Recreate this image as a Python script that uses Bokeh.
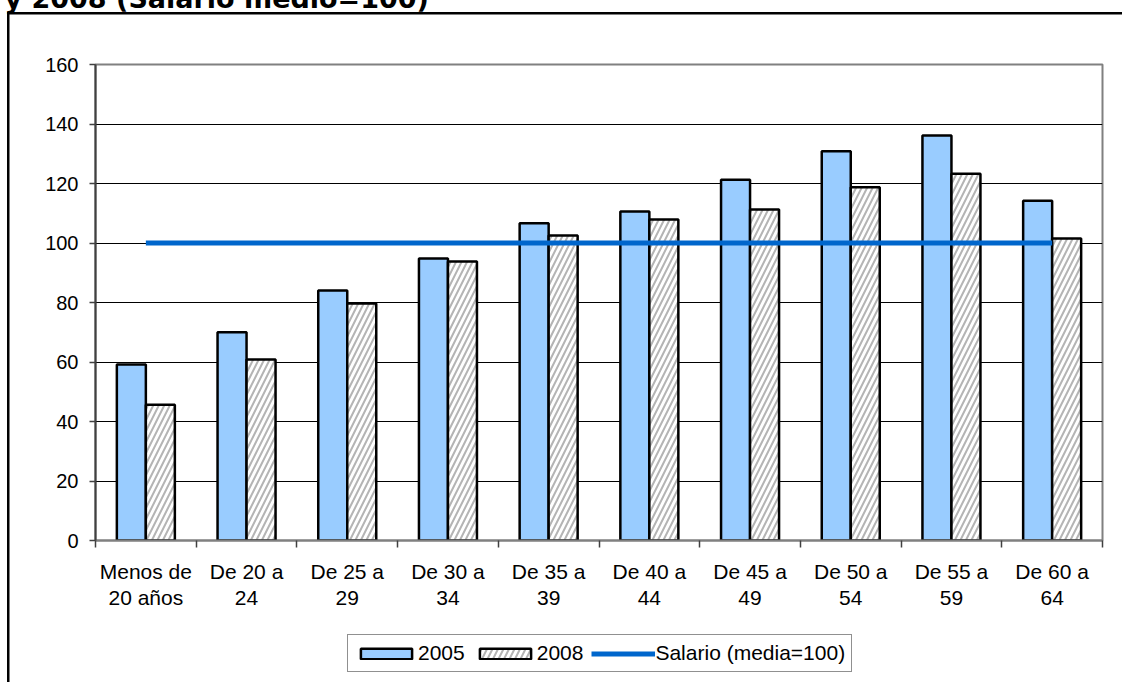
from bokeh.plotting import figure
from bokeh.layouts import column
from bokeh.models import (Range1d, FixedTicker, Legend, LegendItem, Label,
                          ColumnDataSource, InlineStyleSheet)
from bokeh.embed import file_html
from bokeh.resources import INLINE

# Salario relativo por grupo de edad (media = 100)
categories = ["Menos de\n20 años", "De 20 a\n24", "De 25 a\n29", "De 30 a\n34",
              "De 35 a\n39", "De 40 a\n44", "De 45 a\n49", "De 50 a\n54",
              "De 55 a\n59", "De 60 a\n64"]
values_2005 = [59.2, 70.0, 84.0, 94.8, 106.6, 110.6, 121.3, 130.8, 136.1, 114.2]
values_2008 = [45.6, 60.8, 79.7, 93.8, 102.5, 107.9, 111.3, 118.7, 123.3, 101.5]
salario_medio = [100, 100, 100, 100, 100, 100, 100, 100, 100, 100]
y_ticks = [0, 20, 40, 60, 80, 100, 120, 140, 160]
series_names = ["2005", "2008", "Salario (media=100)"]
title_text = "y 2008 (Salario medio=100)"

n = len(categories)
centers = [i + 0.5 for i in range(n)]
bounds = [float(i) for i in range(n + 1)]
bar_w = 0.288

src = ColumnDataSource(dict(
    x05=[c - bar_w / 2 for c in centers],
    x08=[c + bar_w / 2 for c in centers],
    xc=centers,
    v05=values_2005,
    v08=values_2008,
    media=salario_medio,
))

FONT = "Liberation Sans"
W = 1122
H_CHART = 627
H_LEGEND = 55

STYLE_05 = dict(fill_color="#99CCFF", line_color="black", line_width=2.5)
STYLE_08 = dict(fill_color="white", line_color="black", line_width=2.5,
                hatch_pattern="/", hatch_color="#B4B4B4", hatch_weight=2,
                hatch_scale=11)
STYLE_MEDIA = dict(line_color="#0066CC", line_width=5)

# outer chart border (left and top edges) painted behind the transparent canvas
border_top_left = InlineStyleSheet(css="""
:host {
  background:
    linear-gradient(#000, #000) 7px 12px / 2.5px 100% no-repeat,
    linear-gradient(#000, #000) 7px 12px / 100% 2.5px no-repeat,
    #ffffff;
}
""")
border_left = InlineStyleSheet(css="""
:host {
  background:
    linear-gradient(#000, #000) 7px 0px / 2.5px 100% no-repeat,
    #ffffff;
}
""")

# ---------------------------------------------------------------- main chart
p = figure(width=W, height=H_CHART, output_backend="svg", toolbar_location=None,
           x_range=Range1d(0, n), y_range=Range1d(0, 160),
           min_border_left=95, min_border_right=20, min_border_top=64,
           min_border_bottom=H_CHART - 540, stylesheets=[border_top_left])
p.background_fill_color = "white"
p.border_fill_color = None
p.outline_line_color = "#808080"
p.outline_line_width = 2

p.xgrid.visible = False
p.ygrid.ticker = FixedTicker(ticks=y_ticks[1:-1])
p.ygrid.grid_line_color = "black"
p.ygrid.grid_line_width = 1

p.yaxis.ticker = FixedTicker(ticks=y_ticks)
p.yaxis.axis_line_color = "#404040"
p.yaxis.axis_line_width = 2
p.yaxis.major_tick_line_color = "#404040"
p.yaxis.major_tick_line_width = 1.5
p.yaxis.major_tick_out = 6
p.yaxis.major_tick_in = 0
p.yaxis.minor_tick_line_color = None
p.yaxis.major_label_standoff = 11
p.yaxis.major_label_text_font = FONT
p.yaxis.major_label_text_font_size = "20px"
p.yaxis.major_label_text_color = "black"

# x axis: labels at category centres, ticks on category boundaries
p.xaxis.ticker = FixedTicker(ticks=centers, minor_ticks=bounds)
p.xaxis.major_label_overrides = {c: lab for c, lab in zip(centers, categories)}
p.xaxis.axis_line_color = "#808080"
p.xaxis.axis_line_width = 2
p.xaxis.major_tick_line_color = None
p.xaxis.major_tick_out = 0
p.xaxis.major_tick_in = 0
p.xaxis.minor_tick_line_color = "#404040"
p.xaxis.minor_tick_line_width = 1.5
p.xaxis.minor_tick_out = 7
p.xaxis.minor_tick_in = 0
p.xaxis.major_label_standoff = 12
p.xaxis.major_label_text_font = FONT
p.xaxis.major_label_text_font_size = "21px"
p.xaxis.major_label_text_color = "black"
p.xaxis.major_label_text_line_height = 1.15

p.vbar(x="x05", top="v05", width=bar_w, source=src, **STYLE_05)
p.vbar(x="x08", top="v08", width=bar_w, source=src, **STYLE_08)
p.line(x="xc", y="media", source=src, **STYLE_MEDIA)

# chart title, mostly above the top edge of the page
p.add_layout(Label(x=4, y=-2, x_units="canvas", y_units="canvas",
                   text=title_text, text_font="DejaVu Sans",
                   text_font_style="bold", text_font_size="27px",
                   text_baseline="alphabetic", text_align="left",
                   text_color="black"), "above")

# ---------------------------------------------------------------- legend strip
q = figure(width=W, height=H_LEGEND, output_backend="svg", toolbar_location=None,
           x_range=Range1d(0, n), y_range=Range1d(0, 160),
           x_axis_location=None, y_axis_location=None, min_border=0,
           stylesheets=[border_left])
q.grid.visible = False
q.outline_line_color = None
q.background_fill_color = None
q.border_fill_color = None

# hidden copies of the series, used only for the legend swatches
k05 = q.vbar(x="x05", top="v05", width=bar_w, source=src, visible=False, **STYLE_05)
k08 = q.vbar(x="x08", top="v08", width=bar_w, source=src, visible=False, **STYLE_08)
kmed = q.line(x="xc", y="media", source=src, visible=False, **STYLE_MEDIA)

legend = Legend(items=[LegendItem(label=series_names[0], renderers=[k05]),
                       LegendItem(label=series_names[1], renderers=[k08]),
                       LegendItem(label=series_names[2], renderers=[kmed])],
                orientation="horizontal", location=(252, 10),
                glyph_width=64, glyph_height=13, label_standoff=0, spacing=8,
                padding=6, margin=0, border_line_color="#222222",
                border_line_width=1.2, background_fill_color="white",
                inactive_fill_alpha=0,
                label_text_font=FONT, label_text_font_size="21px",
                label_text_color="black")
q.add_layout(legend)

layout = column(p, q, spacing=0)
open("out.html", "w").write(file_html(layout, INLINE))
